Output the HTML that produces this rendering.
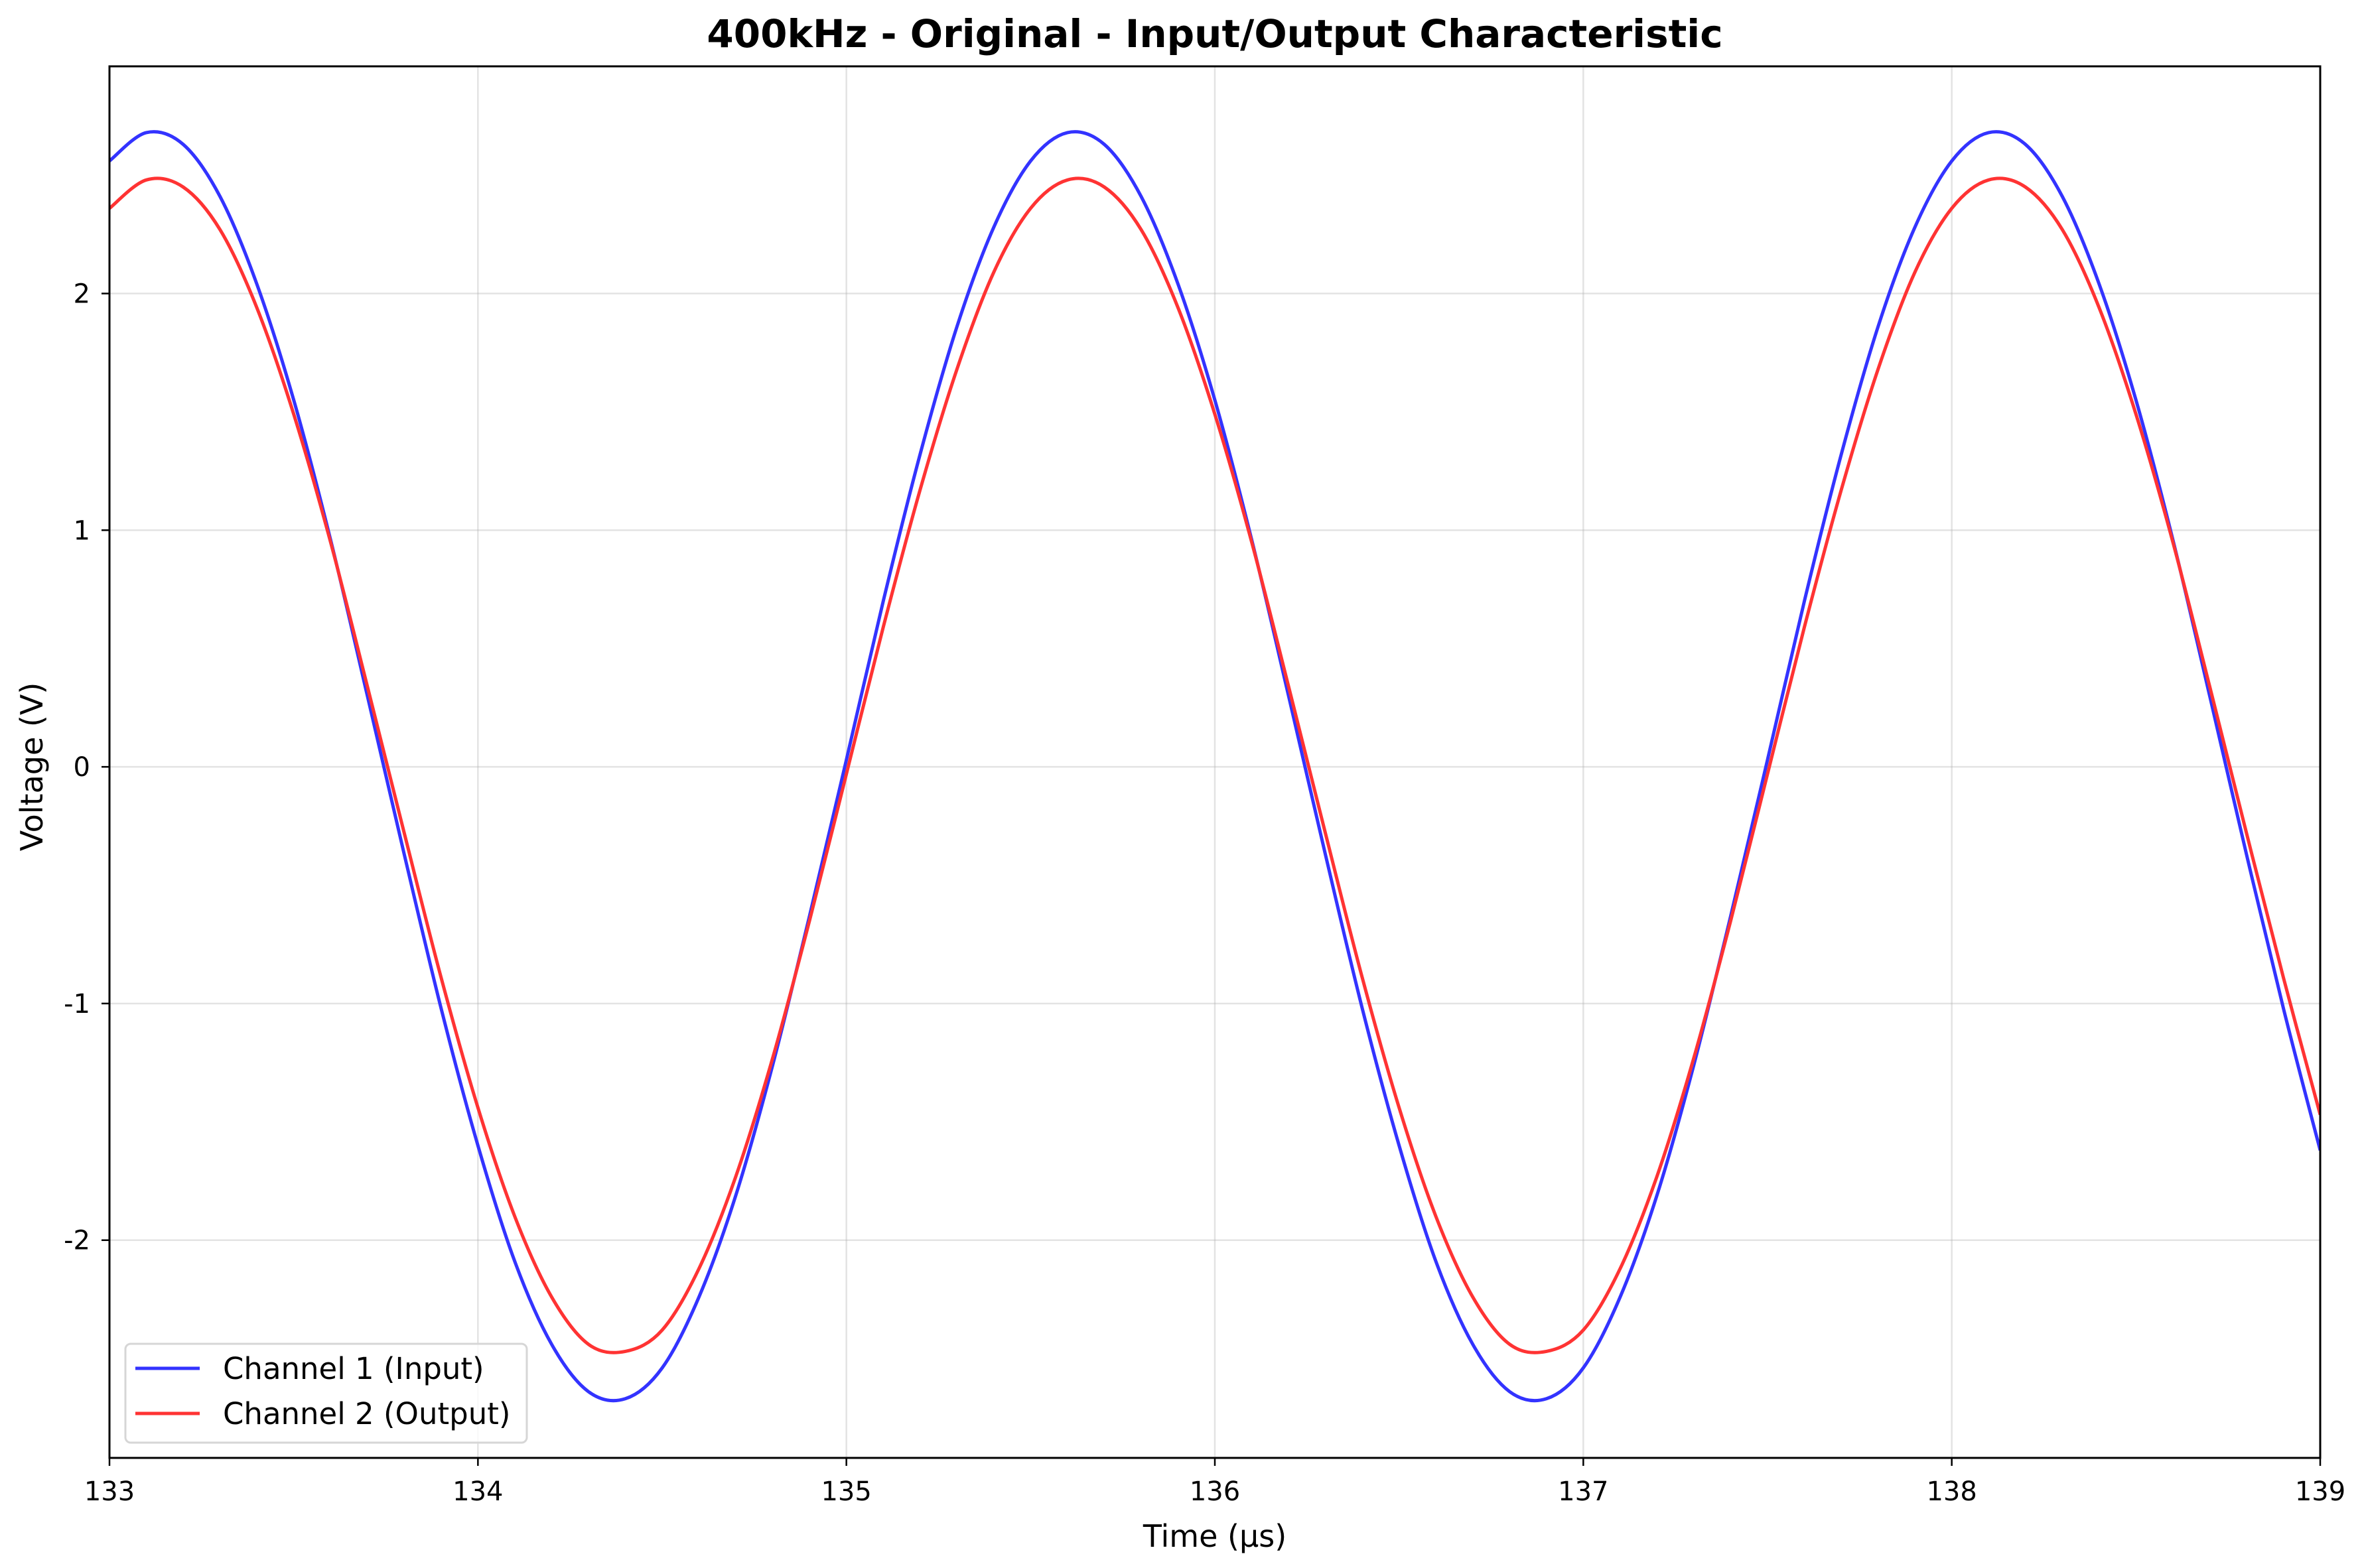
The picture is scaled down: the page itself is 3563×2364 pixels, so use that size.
<!DOCTYPE html>
<html><head><meta charset="utf-8"><style>
html,body{margin:0;padding:0;background:#fff;}
svg{display:block;font-family:"DejaVu Sans","Liberation Sans",sans-serif;}
</style></head><body>
<svg id="chart" width="3563" height="2364" viewBox="0 0 3563 2364" xmlns="http://www.w3.org/2000/svg">
<rect width="3563" height="2364" fill="#fff"/>
<text x="1831" y="71" text-anchor="middle" font-size="58" font-weight="bold" fill="#000">400kHz - Original - Input/Output Characteristic</text>
<g id="grid"></g>
<g id="series"></g>
<rect x="165" y="100" width="3332" height="2098" fill="none" stroke="#000" stroke-width="3"/>
<g id="ticks"></g>
<text x="1831" y="2332" text-anchor="middle" font-size="46" fill="#000">Time (µs)</text>
<text transform="translate(64,1156) rotate(-90)" text-anchor="middle" font-size="46" fill="#000">Voltage (V)</text>
<g>
<rect x="189" y="2026" width="605" height="149" rx="8" fill="#fff" fill-opacity="0.8" stroke="#d6d6d6" stroke-width="3"/>
<line x1="204" y1="2063" x2="301" y2="2063" stroke="#3333ff" stroke-width="5"/>
<text x="336" y="2079" font-size="45" fill="#000">Channel 1 (Input)</text>
<line x1="204" y1="2131" x2="301" y2="2131" stroke="#ff3333" stroke-width="5"/>
<text x="336" y="2147" font-size="45" fill="#000">Channel 2 (Output)</text>
</g>
</svg>
<script>
const times = [];
for (let k = 0; k <= 60; k++) times.push(133 + k * 0.1);
const inputValues = [2.56,2.68,2.63,2.41,2.04,1.55,0.96,0.30,-0.37,-1.02,-1.60,-2.09,-2.44,-2.64,-2.67,-2.54,-2.24,-1.81,-1.26,-0.63,0.03,0.70,1.32,1.86,2.28,
2.56,2.68,2.63,2.41,2.04,1.55,0.96,0.30,-0.37,-1.02,-1.60,-2.09,-2.44,-2.64,-2.67,-2.54,-2.24,-1.81,-1.26,-0.63,0.03,0.70,1.32,1.86,2.28,
2.56,2.68,2.63,2.41,2.04,1.55,0.96,0.30,-0.37,-1.02,-1.62];
const outputValues = [2.36,2.48,2.45,2.27,1.94,1.49,0.95,0.34,-0.28,-0.89,-1.44,-1.90,-2.24,-2.44,-2.47,-2.38,-2.12,-1.73,-1.23,-0.65,-0.03,0.59,1.17,1.68,2.09,
2.36,2.48,2.45,2.27,1.94,1.49,0.95,0.34,-0.28,-0.89,-1.44,-1.90,-2.24,-2.44,-2.47,-2.38,-2.12,-1.73,-1.23,-0.65,-0.03,0.59,1.17,1.68,2.09,
2.36,2.48,2.45,2.27,1.94,1.49,0.95,0.34,-0.28,-0.89,-1.47];
const xTicks = [133,134,135,136,137,138,139];
const xTickLabels = ["133","134","135","136","137","138","139"];
const yTicks = [-2,-1,0,1,2];
const yTickLabels = ["-2","-1","0","1","2"];

const X0=165,X1=3497,Y0=100,Y1=2198, xmin=133,xmax=139, ymin=-2.92,ymax=2.96;
function sx(t){return X0+(t-xmin)/(xmax-xmin)*(X1-X0);}
function sy(v){return Y1-(v-ymin)/(ymax-ymin)*(Y1-Y0);}
const NS='http://www.w3.org/2000/svg';
const grid=document.getElementById('grid'), ticks=document.getElementById('ticks'), series=document.getElementById('series');
function mk(tag,attrs,parent){const e=document.createElementNS(NS,tag);for(const k in attrs)e.setAttribute(k,attrs[k]);parent.appendChild(e);return e;}
xTicks.forEach((t,i)=>{
  const g=mk('line',{x1:sx(t),x2:sx(t),y1:Y0,y2:Y1,stroke:'#b0b0b0','stroke-opacity':0.35,'stroke-width':2.5},grid);
  
  
  const tk=mk('line',{x1:sx(t),x2:sx(t),y1:Y1,y2:Y1+12,stroke:'#000','stroke-width':2.5},ticks);
  
  
  const tx=mk('text',{x:sx(t),y:2262,'text-anchor':'middle','font-size':40,fill:'#000'},ticks);
  tx.textContent=xTickLabels[i];
  
  
});
yTicks.forEach((v,i)=>{
  const g=mk('line',{x1:X0,x2:X1,y1:sy(v),y2:sy(v),stroke:'#b0b0b0','stroke-opacity':0.35,'stroke-width':2.5},grid);
  
  
  const tk=mk('line',{x1:X0-12,x2:X0,y1:sy(v),y2:sy(v),stroke:'#000','stroke-width':2.5},ticks);
  
  
  const tx=mk('text',{x:136,y:sy(v)+14,'text-anchor':'end','font-size':40,fill:'#000'},ticks);
  tx.textContent=yTickLabels[i];
  
  
});
function pathFor(vals){
  const p=vals.map((v,i)=>[sx(times[i]),sy(v)]);
  let d='M'+p[0][0].toFixed(1)+','+p[0][1].toFixed(1);
  for(let i=0;i<p.length-1;i++){
    const a=p[Math.max(0,i-1)],b=p[i],c=p[i+1],e=p[Math.min(p.length-1,i+2)];
    const c1=[b[0]+(c[0]-a[0])/6,b[1]+(c[1]-a[1])/6], c2=[c[0]-(e[0]-b[0])/6,c[1]-(e[1]-b[1])/6];
    d+='C'+c1[0].toFixed(1)+','+c1[1].toFixed(1)+' '+c2[0].toFixed(1)+','+c2[1].toFixed(1)+' '+c[0].toFixed(1)+','+c[1].toFixed(1);
  }
  return d;
}
const clip=mk('clipPath',{id:'pc'},mk('defs',{},series));
mk('rect',{x:X0,y:Y0,width:X1-X0,height:Y1-Y0},clip);
const l1=mk('path',{d:pathFor(inputValues),fill:'none',stroke:'#3333ff','stroke-width':5,'stroke-linejoin':'round','clip-path':'url(#pc)'},series);


const l2=mk('path',{d:pathFor(outputValues),fill:'none',stroke:'#ff3333','stroke-width':5,'stroke-linejoin':'round','clip-path':'url(#pc)'},series);


</script>
</body></html>
